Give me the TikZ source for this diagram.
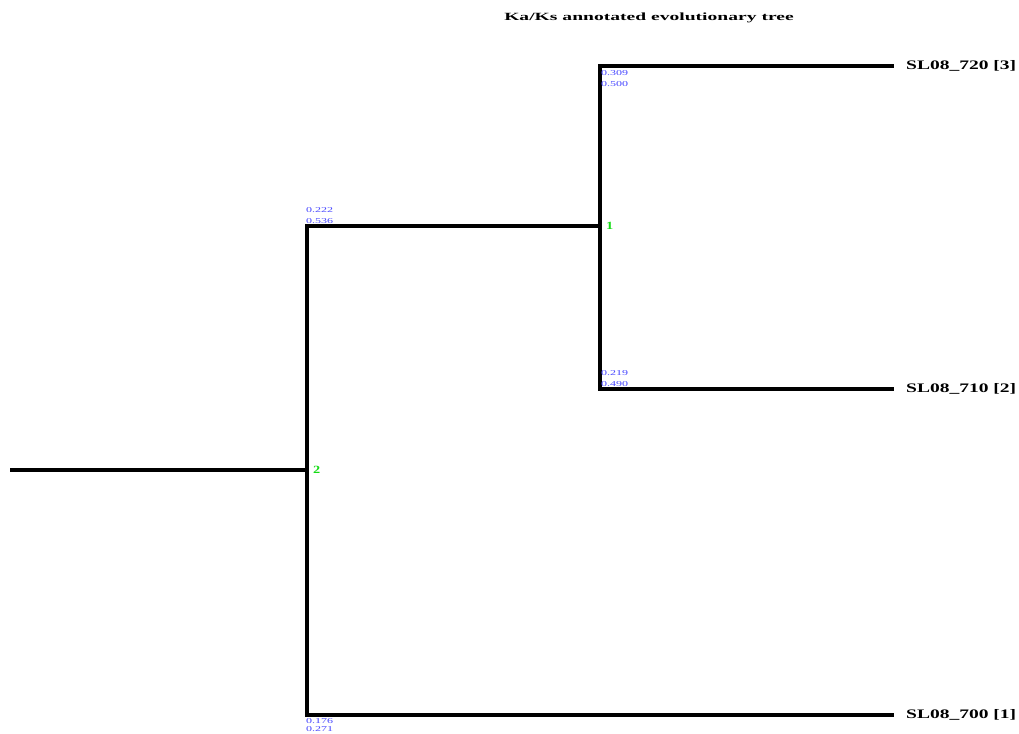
\documentclass[tikz,border=0pt]{standalone}
\usepackage{fontspec}
\setmainfont{Liberation Serif}
\definecolor{kaksblue}{RGB}{70,70,255}
\definecolor{idgreen}{RGB}{20,220,20}
\newcommand{\wide}[2]{\scalebox{#1}[1]{#2}}
\begin{document}
\begin{tikzpicture}[x=1pt,y=-1pt,
  branch/.style={line width=4pt,line cap=rect},
  leaf/.style={anchor=west,font=\fontsize{13}{13}\selectfont\bfseries,inner sep=0pt},
  kaks/.style={anchor=west,font=\fontsize{7.5}{7.5}\selectfont,text=kaksblue,inner sep=0pt},
  nodeid/.style={anchor=west,font=\fontsize{11}{11}\selectfont\bfseries,text=idgreen,inner sep=0pt}]
\useasboundingbox (0,0) rectangle (1019,733);
\clip (0,0) rectangle (1019,733);
\node[font=\fontsize{11}{11}\selectfont\bfseries,inner sep=0pt] (title) at (649,18) {\wide{1.78}{Ka/Ks annotated evolutionary tree}};
\coordinate (root) at (12,470);
\coordinate (n2) at (307,470);
\coordinate (n2t) at (307,226);
\coordinate (n2b) at (307,715);
\coordinate (n1) at (600,226);
\coordinate (n1t) at (600,66);
\coordinate (n1b) at (600,389);
\coordinate (l3) at (892,66);
\coordinate (l2) at (892,389);
\coordinate (l1) at (892,715);
\draw[branch] (root) -- (n2);
\draw[branch] (n2t) -- (n2b);
\draw[branch] (n2t) -- (n1);
\draw[branch] (n1t) -- (n1b);
\draw[branch] (n1t) -- (l3);
\draw[branch] (n1b) -- (l2);
\draw[branch] (n2b) -- (l1);
\node[leaf] (t3) at (906,66) {\wide{1.5}{SL08\_720 [3]}};
\node[leaf] (t2) at (906,389) {\wide{1.5}{SL08\_710 [2]}};
\node[leaf] (t1) at (906,715) {\wide{1.5}{SL08\_700 [1]}};
\node[nodeid] (id1) at (606,226) {\wide{1.3}{1}};
\node[nodeid] (id2) at (313,470) {\wide{1.3}{2}};
\node[kaks] (a1) at (306,210) {\wide{1.6}{0.222}};
\node[kaks] (b1) at (306,221) {\wide{1.6}{0.536}};
\node[kaks] (a2) at (601,73) {\wide{1.6}{0.309}};
\node[kaks] (b2) at (601,84) {\wide{1.6}{0.500}};
\node[kaks] (a3) at (601,373) {\wide{1.6}{0.219}};
\node[kaks] (b3) at (601,384) {\wide{1.6}{0.490}};
\node[kaks] (a4) at (306,721) {\wide{1.6}{0.176}};
\node[kaks] (b4) at (306,729.5) {\wide{1.6}{0.271}};
\end{tikzpicture}
\end{document}
